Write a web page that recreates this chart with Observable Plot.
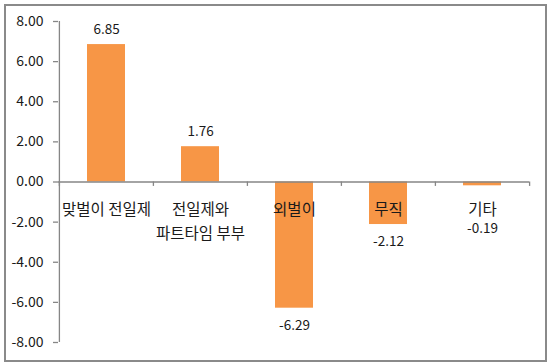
<!DOCTYPE html>
<html>
<head>
<meta charset="utf-8">
<script src="https://cdn.jsdelivr.net/npm/d3@7"></script>
<script src="https://cdn.jsdelivr.net/npm/@observablehq/plot@0.6"></script>
<style>
  html, body { margin: 0; padding: 0; background: #fff; }
  #wrap { position: relative; width: 550px; height: 364px; }
  #border { position: absolute; left: 4px; top: 4px; width: 539px; height: 354px; border: 2px solid #8a8a8a; pointer-events: none; }
</style>
</head>
<body>
<div id="wrap"><div id="border"></div></div>
<script>
const categories = ["맞벌이 전일제", "전일제와\n파트타임 부부", "외벌이", "무직", "기타"];
const values = [6.85, 1.76, -6.29, -2.12, -0.19];
const yTicks = [-8, -6, -4, -2, 0, 2, 4, 6, 8];

const data = categories.map((c, i) => ({cat: c, v: values[i]}));

const W = 550, H = 364;
const mL = 58, mR = 21, mT = 21, mB = 22;
const step = (W - mL - mR) / categories.length;
const font = "'Noto Sans CJK KR', 'Noto Sans', sans-serif";
const orange = "#F79646";
const axisColor = "#868686";
const first = categories[0];
const last = categories[categories.length - 1];

const chart = Plot.plot({
  width: W, height: H,
  marginLeft: mL, marginRight: mR, marginTop: mT, marginBottom: mB,
  style: {fontFamily: font, background: "transparent", overflow: "visible", color: "#1a1a1a"},
  x: {domain: categories, paddingInner: 0.6, paddingOuter: 0.3, axis: null},
  y: {domain: [-8, 8], axis: null, label: null},
  marks: [
    Plot.barY(data, {x: "cat", y: "v", fill: orange}),
    // y axis line
    Plot.ruleX([first], {x: d => d, y1: -8, y2: 8, dx: -step / 2, stroke: axisColor, strokeWidth: 1.3}),
    // y axis ticks and labels
    Plot.axisY(yTicks, {anchor: "left", label: null, tickSize: 5, tickPadding: 10, tickFormat: d => d.toFixed(2), fontSize: 14, stroke: axisColor, strokeWidth: 1.3, strokeOpacity: 1, fill: "#1a1a1a"}),
    // x axis line at zero
    Plot.ruleY([0], {stroke: axisColor, strokeWidth: 1.3}),
    // category boundary ticks
    Plot.ruleX(categories, {x: d => d, y1: 0, y2: -0.22, dx: -step / 2, stroke: axisColor, strokeWidth: 1.3}),
    Plot.ruleX([last], {x: d => d, y1: 0, y2: -0.22, dx: step / 2, stroke: axisColor, strokeWidth: 1.3}),
    // category labels
    Plot.text(categories, {x: d => d, y: 0, text: d => d, dy: 15, lineAnchor: "top", lineHeight: 1.6, fontSize: 15.5, fill: "#1a1a1a"}),
    // value labels
    Plot.text(data.filter(d => d.v >= 0), {x: "cat", y: "v", text: d => d.v.toFixed(2), dy: -15, fontSize: 13.5, fill: "#1a1a1a"}),
    Plot.text(data.filter(d => d.v < 0), {x: "cat", y: d => Math.min(d.v, -1.5), text: d => d.v.toFixed(2), dy: 17, fontSize: 13.5, fill: "#1a1a1a"})
  ]
});
chart.style.position = "absolute";
chart.style.left = "0px";
chart.style.top = "0px";
document.getElementById("wrap").appendChild(chart);
</script>
</body>
</html>
